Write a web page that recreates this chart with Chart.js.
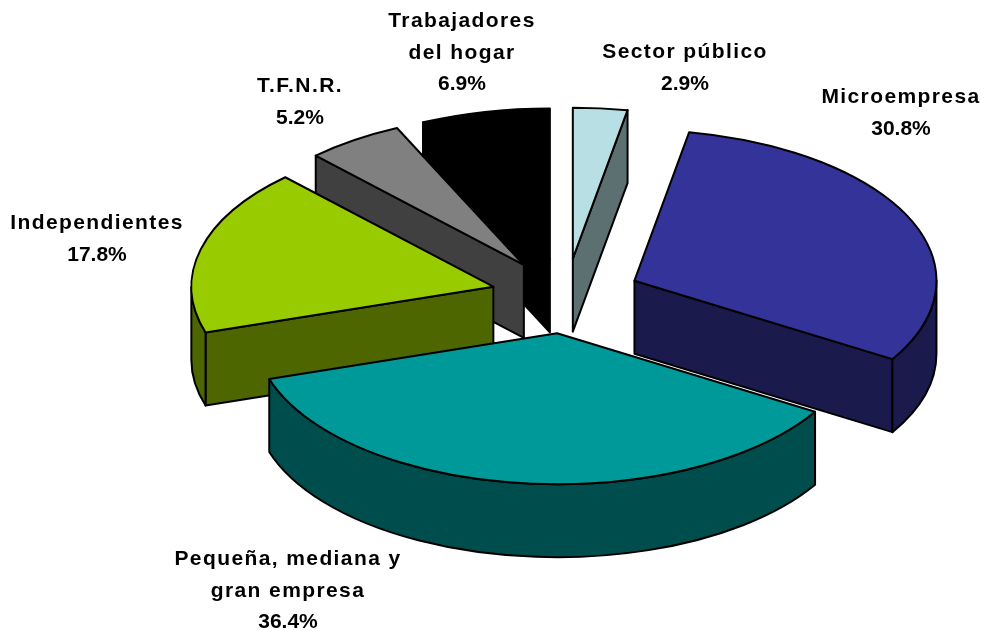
<!DOCTYPE html>
<html>
<head>
<meta charset="utf-8">
<script src="https://cdn.jsdelivr.net/npm/chart.js@4"></script>
<style>
  html, body { margin: 0; background: #fff; }
  canvas { display: block; }
</style>
</head>
<body>
<canvas id="pieChart" width="988" height="630"></canvas>
<script>
const sectors = ["Sector público", "Microempresa", "Pequeña, mediana y gran empresa", "Independientes", "T.F.N.R.", "Trabajadores del hogar"];
const shares = [2.9, 30.8, 36.4, 17.8, 5.2, 6.9];
const topColors = ["#b8e0e4", "#333399", "#009999", "#99cc00", "#808080", "#000000"];
const sideColors = ["#5c7072", "#1a1a4d", "#004d4d", "#4d6600", "#404040", "#000000"];

// label lines and where each block sits (center x, first baseline)
const labelLines = [["Sector público"], ["Microempresa"], ["Pequeña, mediana y", "gran empresa"], ["Independientes"], ["T.F.N.R."], ["Trabajadores", "del hogar"]];
const labelX = [685, 901, 288, 97, 300, 462];
const labelY = [58, 103, 565, 229, 92, 27];

// fake 3d settings
const SQUASH = 0.5;
const DEPTH = 73;
const EXPLODE = 75;
const LINE = 2;

function sliceGeometry(arc) {
  const p = arc.getProps(["x", "y", "startAngle", "endAngle", "outerRadius"], true);
  const mid = (p.startAngle + p.endAngle) / 2;
  return {
    cx: p.x + Math.cos(mid) * EXPLODE,
    cy: p.y + Math.sin(mid) * EXPLODE * SQUASH,
    r: p.outerRadius,
    start: p.startAngle,
    end: p.endAngle,
    mid
  };
}

function drawWall(ctx, g, angle, color) {
  const ex = g.cx + Math.cos(angle) * g.r;
  const ey = g.cy + Math.sin(angle) * g.r * SQUASH;
  ctx.beginPath();
  ctx.moveTo(g.cx, g.cy);
  ctx.lineTo(ex, ey);
  ctx.lineTo(ex, ey + DEPTH);
  ctx.lineTo(g.cx, g.cy + DEPTH);
  ctx.closePath();
  ctx.fillStyle = color;
  ctx.fill();
  ctx.stroke();
}

function drawRim(ctx, g, color) {
  // only the front half of the rim can be seen
  const a0 = Math.max(g.start, 0);
  const a1 = Math.min(g.end, Math.PI);
  if (a1 <= a0) return;
  ctx.beginPath();
  ctx.ellipse(g.cx, g.cy, g.r, g.r * SQUASH, 0, a0, a1);
  ctx.ellipse(g.cx, g.cy + DEPTH, g.r, g.r * SQUASH, 0, a1, a0, true);
  ctx.closePath();
  ctx.fillStyle = color;
  ctx.fill();
  ctx.stroke();
}

const pie3d = {
  id: "pie3d",
  beforeDatasetDraw(chart, args) {
    const ctx = chart.ctx;
    const arcs = chart.getDatasetMeta(args.index).data;
    const order = arcs.map((arc, i) => i).sort((a, b) => Math.sin(sliceGeometry(arcs[a]).mid) - Math.sin(sliceGeometry(arcs[b]).mid));

    ctx.save();
    ctx.strokeStyle = "#000";
    ctx.lineWidth = LINE;
    ctx.lineJoin = "round";
    for (const i of order) {
      const arc = arcs[i];
      const g = sliceGeometry(arc);

      // side walls first, then the top face on them
      if (Math.cos(g.start) < -0.001) drawWall(ctx, g, g.start, sideColors[i]);
      if (Math.cos(g.end) > 0.001) drawWall(ctx, g, g.end, sideColors[i]);
      drawRim(ctx, g, sideColors[i]);

      ctx.save();
      ctx.translate(arc.x, arc.y);
      ctx.scale(1, SQUASH);
      ctx.translate(-arc.x, -arc.y);
      ctx.translate(Math.cos(g.mid) * EXPLODE, Math.sin(g.mid) * EXPLODE);
      arc.draw(ctx);
      ctx.restore();

      ctx.beginPath();
      ctx.moveTo(g.cx, g.cy);
      ctx.ellipse(g.cx, g.cy, g.r, g.r * SQUASH, 0, g.start, g.end);
      ctx.closePath();
      ctx.stroke();
    }
    ctx.restore();
    return false;
  },
  afterDraw(chart) {
    const ctx = chart.ctx;
    ctx.save();
    ctx.fillStyle = "#000";
    ctx.textAlign = "center";
    ctx.font = 'bold 21px "Liberation Sans", Arial, sans-serif';
    labelLines.forEach((lines, i) => {
      let y = labelY[i];
      ctx.letterSpacing = "1.4px";
      for (const line of lines) {
        ctx.fillText(line, labelX[i], y);
        y += 31.5;
      }
      ctx.letterSpacing = "0px";
      ctx.fillText(shares[i].toFixed(1) + "%", labelX[i], y);
    });
    ctx.restore();
  }
};

new Chart(document.getElementById("pieChart"), {
  type: "pie",
  data: {
    labels: sectors,
    datasets: [{
      data: shares,
      backgroundColor: topColors,
      borderWidth: 0,
      clip: false
    }]
  },
  options: {
    responsive: false,
    animation: false,
    radius: 302,
    layout: { padding: { left: 144, bottom: 38 } },
    plugins: {
      legend: { display: false },
      tooltip: { enabled: false }
    }
  },
  plugins: [pie3d]
});
</script>
</body>
</html>
